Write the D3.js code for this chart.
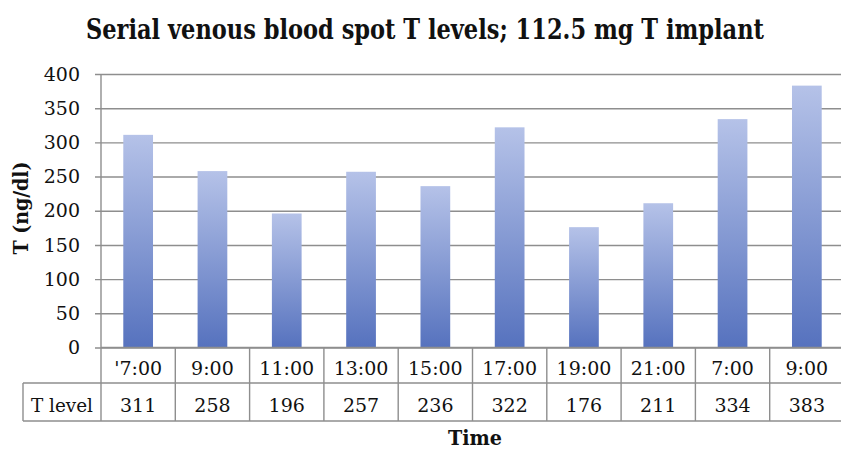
<!DOCTYPE html>
<html lang="en">
  <head>
    <meta charset="utf-8">
    <title>serial_T_levels</title>
    <script src="https://d3js.org/d3.v7.min.js"></script>
    <style>
      body { margin: 0; background: #fff; }
      text { font-family: "DejaVu Serif", "Liberation Serif", serif; fill: #111; }
    </style>
  </head>

  <body>

  <script>

  // chart data
  var times = ["'7:00", "9:00", "11:00", "13:00", "15:00", "17:00", "19:00", "21:00", "7:00", "9:00"];
  var tLevels = [311, 258, 196, 257, 236, 322, 176, 211, 334, 383];
  var yTicks = [0, 50, 100, 150, 200, 250, 300, 350, 400];
  var rowLabel = "T level";

  var w = 841;
  var h = 450;
  var plotLeft = 101;
  var colWidth = 74.3;
  var plotTop = 74;
  var plotBottom = 347.5;
  var row1 = 383;
  var row2 = 421;
  var tableLeft = 23;
  var gridColor = "#8e8e8e";

  var svg = d3.select("body")
    .append("svg")
      .attr("width", w)
      .attr("height", h);

  var grad = svg.append("defs")
    .append("linearGradient")
      .attr("id", "barFill")
      .attr("x1", 0).attr("y1", 0)
      .attr("x2", 0).attr("y2", 1);
  grad.append("stop").attr("offset", "0%").attr("stop-color", "#b5c2e8");
  grad.append("stop").attr("offset", "100%").attr("stop-color", "#5672be");

  // squeeze a text horizontally to a target width (the source used a narrow font)
  function fitWidth(sel, x, y, target, rot) {
    var len = sel.node().getComputedTextLength();
    var k = Math.min(1, target / len);
    sel.attr("transform", `translate(${x}, ${y}) ${rot ? "rotate(-90)" : ""} scale(${k}, 1)`);
  }

  var xScale = d3.scaleBand()
      .domain(d3.range(times.length))
      .range([plotLeft, plotLeft + colWidth * times.length])
      .padding(0);

  var yScale = d3.scaleLinear()
      .domain([0, 400])
      .range([plotBottom, plotTop]);

  // gridlines + y axis
  var yAxis = d3.axisLeft(yScale)
      .tickValues(yTicks)
      .tickSize(-(w - plotLeft + 20))
      .tickPadding(21)
      .tickFormat(d3.format("d"));

  var yg = svg.append("g")
      .attr("class", "yAxis")
      .attr("transform", `translate (${plotLeft}, 0)`)
      .call(yAxis);
  yg.select(".domain").remove();
  yg.selectAll(".tick line")
      .attr("x1", -6)
      .attr("stroke", gridColor)
      .attr("stroke-width", 1.4);
  yg.selectAll(".tick text")
      .attr("font-size", 19)
      .attr("fill", "#111")
      .style("font-family", "'DejaVu Serif', serif");

  // bars
  svg.append("g")
      .attr("id", "plot")
    .selectAll("rect")
      .data(tLevels)
    .enter().append("rect")
      .attr("x", (d, i) => xScale(i) + xScale.bandwidth() * 0.3)
      .attr("width", xScale.bandwidth() * 0.4)
      .attr("y", d => yScale(d))
      .attr("height", d => plotBottom - yScale(d))
      .attr("fill", "url(#barFill)");

  // vertical axis line running through the table
  svg.append("line")
      .attr("x1", plotLeft).attr("x2", plotLeft)
      .attr("y1", plotTop).attr("y2", row2)
      .attr("stroke", gridColor)
      .attr("stroke-width", 1.4);

  // data table
  var table = svg.append("g").attr("class", "table");

  table.append("line")
      .attr("x1", plotLeft).attr("x2", w + 20)
      .attr("y1", plotBottom).attr("y2", plotBottom);
  table.append("line")
      .attr("x1", tableLeft).attr("x2", w + 20)
      .attr("y1", row1).attr("y2", row1);
  table.append("line")
      .attr("x1", tableLeft).attr("x2", w + 20)
      .attr("y1", row2).attr("y2", row2);
  table.append("line")
      .attr("x1", tableLeft).attr("x2", tableLeft)
      .attr("y1", row1).attr("y2", row2);

  table.selectAll("line.col")
      .data(times)
    .enter().append("line")
      .attr("class", "col")
      .attr("x1", (d, i) => xScale(i) + xScale.bandwidth())
      .attr("x2", (d, i) => xScale(i) + xScale.bandwidth())
      .attr("y1", plotBottom)
      .attr("y2", row2);

  table.selectAll("line")
      .attr("stroke", gridColor)
      .attr("stroke-width", 1.4);

  table.selectAll("text.cat")
      .data(times)
    .enter().append("text")
      .attr("class", "cat")
      .attr("x", (d, i) => xScale(i) + xScale.bandwidth() / 2)
      .attr("y", 375)
      .attr("text-anchor", "middle")
      .attr("font-size", 19)
      .text(d => d);

  table.selectAll("text.val")
      .data(tLevels)
    .enter().append("text")
      .attr("class", "val")
      .attr("x", (d, i) => xScale(i) + xScale.bandwidth() / 2)
      .attr("y", 412)
      .attr("text-anchor", "middle")
      .attr("font-size", 19)
      .text(d => d);

  var rl = table.append("text")
      .attr("text-anchor", "middle")
      .attr("font-size", 19)
      .text(rowLabel);
  fitWidth(rl, (tableLeft + plotLeft) / 2, 412, 62, false);

  // titles
  var title = svg.append("text")
      .attr("text-anchor", "middle")
      .attr("font-size", 27)
      .attr("font-weight", "bold")
      .text("Serial venous blood spot T levels; 112.5 mg T implant");
  fitWidth(title, 425, 39, 678, false);

  var yt = svg.append("text")
      .attr("text-anchor", "middle")
      .attr("font-size", 20)
      .attr("font-weight", "bold")
      .text("T (ng/dl)");
  fitWidth(yt, 28, 208, 93, true);

  var xt = svg.append("text")
      .attr("text-anchor", "middle")
      .attr("font-size", 20)
      .attr("font-weight", "bold")
      .text("Time");
  fitWidth(xt, 475, 445, 54, false);

    </script>

  </body>

</html>
